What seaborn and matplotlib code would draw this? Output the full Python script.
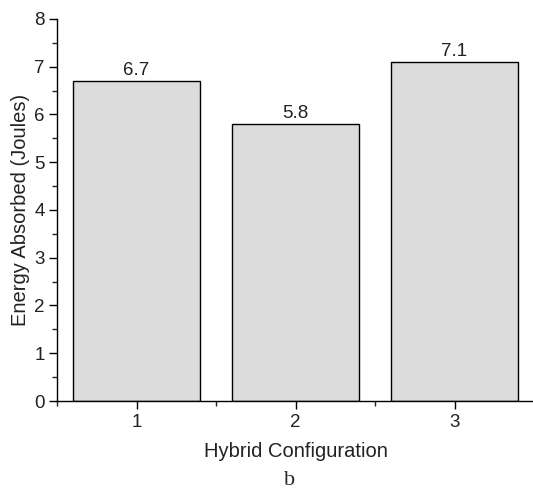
import matplotlib
matplotlib.use("Agg")
import matplotlib.pyplot as plt
import seaborn as sns
import pandas as pd
from matplotlib.ticker import MultipleLocator

configs = [1, 2, 3]
energy = [6.7, 5.8, 7.1]
labels = ["6.7", "5.8", "7.1"]

sns.set_style("ticks")
plt.rcParams['font.family'] = ['Liberation Sans', 'DejaVu Sans']

df = pd.DataFrame({"config": configs, "energy": energy})

fig = plt.figure(figsize=(5.33, 4.93), dpi=100)
ax = fig.add_axes([0.107, 0.1866, 0.895, 0.775])
sns.barplot(data=df, x="config", y="energy", native_scale=True, width=0.8,
            color="#dcdcdc", edgecolor="black", linewidth=1.0, saturation=1, ax=ax, errorbar=None)

for x, y, t in zip(configs, energy, labels):
    ax.text(x, y + 0.04, t, ha="center", va="bottom", fontsize=13.5, color="#222222")

ax.set_xlim(0.5, 3.5)
ax.set_ylim(0, 8)
ax.set_xticks(configs)
ax.set_xticklabels([str(c) for c in configs])
ax.xaxis.set_minor_locator(MultipleLocator(0.5))
ax.yaxis.set_major_locator(MultipleLocator(1))
ax.yaxis.set_minor_locator(MultipleLocator(0.5))
ax.tick_params(axis="both", which="major", direction="out", length=6, width=1, labelsize=13.5,
               colors="black", labelcolor="#222222", pad=3)
ax.tick_params(axis="both", which="minor", direction="out", length=3.5, width=1)
for s in ["top", "right"]:
    ax.spines[s].set_visible(False)
for s in ["left", "bottom"]:
    ax.spines[s].set_linewidth(1)
    ax.spines[s].set_color("black")
ax.set_xlabel("Hybrid Configuration", fontsize=14.5, labelpad=8, color="#222222")
ax.set_ylabel("Energy Absorbed (Joules)", fontsize=14.5, labelpad=3, color="#222222")

fig.text(0.543, 0.006, "b", ha="center", va="bottom", fontsize=16, family="Liberation Serif")

fig.savefig("out.png", dpi=100)
